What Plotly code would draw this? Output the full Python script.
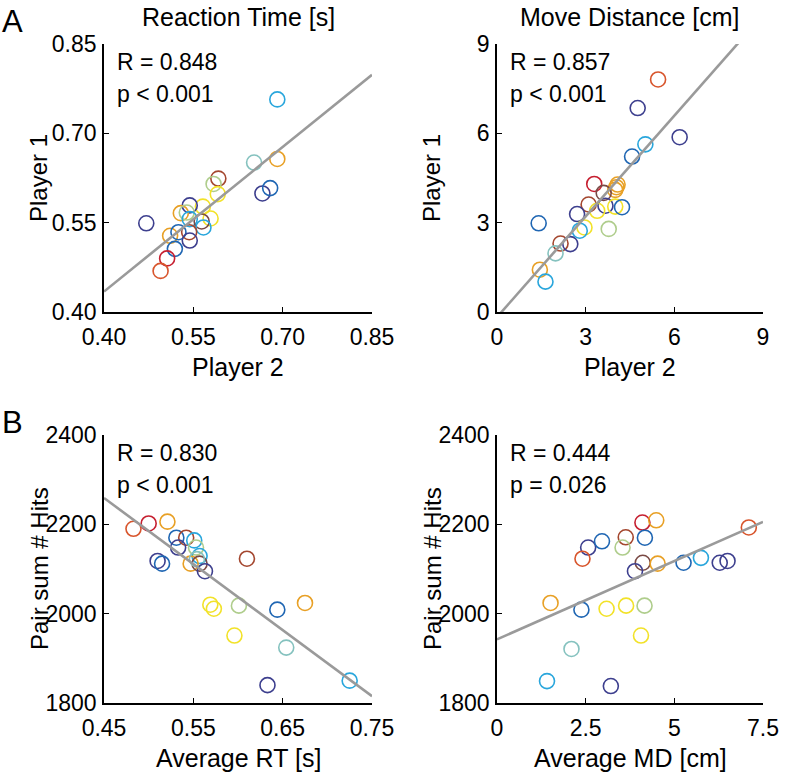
import numpy as np
import plotly.graph_objects as go

# one colour per player pair (jet-like map in the original)
palette = {
    "navy": "#3d3f8e",
    "blue": "#1f66b3",
    "cyan": "#29a6dc",
    "teal": "#85c2bf",
    "lgreen": "#afcd8c",
    "yellow": "#f2e229",
    "orange": "#e8a025",
    "redor": "#d8552c",
    "red": "#c61f30",
    "brown": "#a4472f",
    "dbrown": "#7a4a45",
}

# A, left: reaction time [s], player 2 (x) vs player 1 (y)
rt_p2 = [0.691, 0.652, 0.691, 0.666, 0.679, 0.592, 0.584, 0.591, 0.566, 0.579,
         0.471, 0.544, 0.529, 0.539, 0.544, 0.564, 0.567, 0.511, 0.525, 0.543,
         0.544, 0.519, 0.506, 0.495]
rt_p1 = [0.757, 0.651, 0.657, 0.599, 0.608, 0.624, 0.615, 0.598, 0.577, 0.557,
         0.549, 0.579, 0.566, 0.567, 0.556, 0.552, 0.542, 0.528, 0.534, 0.534,
         0.520, 0.506, 0.490, 0.469]
rt_col = ["cyan", "teal", "orange", "navy", "blue", "brown", "lgreen", "yellow", "yellow", "yellow",
          "navy", "navy", "orange", "lgreen", "cyan", "dbrown", "cyan", "orange", "blue", "brown",
          "navy", "blue", "red", "redor"]

# A, right: move distance [cm], player 2 (x) vs player 1 (y)
md_p2 = [5.45, 4.76, 6.18, 5.02, 4.57, 3.29, 4.08, 4.04, 4.00, 3.61,
         3.10, 3.67, 3.39, 4.00, 4.23, 2.71, 1.41, 3.78, 2.96, 2.80,
         2.15, 2.48, 1.98, 1.45, 1.64]
md_p1 = [7.81, 6.85, 5.87, 5.63, 5.22, 4.30, 4.28, 4.19, 4.10, 4.00,
         3.61, 3.57, 3.40, 3.54, 3.52, 3.29, 2.98, 2.79, 2.84, 2.73,
         2.30, 2.28, 1.97, 1.42, 1.02]
md_col = ["redor", "navy", "navy", "cyan", "blue", "red", "orange", "orange", "orange", "dbrown",
          "brown", "navy", "yellow", "yellow", "blue", "navy", "blue", "lgreen", "yellow", "cyan",
          "brown", "navy", "teal", "orange", "cyan"]

# B, left: average RT [s] vs pair sum of hits
rt_avg = [0.483, 0.500, 0.521, 0.531, 0.542, 0.551, 0.553, 0.533, 0.557, 0.510,
          0.515, 0.547, 0.557, 0.554, 0.563, 0.610, 0.569, 0.573, 0.601, 0.644,
          0.675, 0.596, 0.654, 0.725, 0.633]
hits_rt = [2190, 2202, 2206, 2170, 2170, 2164, 2148, 2148, 2129, 2118,
           2112, 2112, 2112, 2122, 2095, 2123, 2020, 2011, 2018, 2009,
           2024, 1951, 1924, 1850, 1840]
rtavg_col = ["redor", "red", "orange", "blue", "brown", "cyan", "lgreen", "navy", "cyan", "navy",
             "blue", "orange", "dbrown", "teal", "navy", "brown", "yellow", "yellow", "lgreen", "blue",
             "orange", "yellow", "teal", "cyan", "navy"]

# B, right: average MD [cm] vs pair sum of hits
md_avg = [4.10, 4.49, 2.57, 2.96, 3.63, 4.17, 3.54, 2.41, 4.11, 4.53,
          3.89, 5.26, 5.75, 6.28, 6.50, 7.10, 1.51, 2.38, 3.09, 3.64,
          4.16, 4.06, 2.10, 1.41, 3.21]
hits_md = [2204, 2209, 2148, 2162, 2171, 2170, 2148, 2123, 2114, 2112,
           2095, 2114, 2125, 2114, 2118, 2193, 2024, 2009, 2011, 2018,
           2018, 1951, 1921, 1849, 1838]
mdavg_col = ["red", "orange", "navy", "blue", "brown", "blue", "lgreen", "redor", "dbrown", "orange",
             "navy", "blue", "cyan", "navy", "navy", "redor", "orange", "blue", "yellow", "yellow",
             "lgreen", "yellow", "teal", "cyan", "navy"]

stats = [("R = 0.848", "p < 0.001"), ("R = 0.857", "p < 0.001"),
         ("R = 0.830", "p < 0.001"), ("R = 0.444", "p = 0.026")]

col_titles = ["Reaction Time [s]", "Move Distance [cm]"]

FONT = "Liberation Sans, Arial, Helvetica, sans-serif"
W, H = 796, 773

panels = [
    dict(x=rt_p2, y=rt_p1, c=rt_col, xr=[0.40, 0.85], yr=[0.40, 0.85],
         xt=[0.40, 0.55, 0.70, 0.85], yt=[0.40, 0.55, 0.70, 0.85],
         xl=["0.40", "0.55", "0.70", "0.85"], yl=["0.40", "0.55", "0.70", "0.85"],
         xtitle="Player 2", ytitle="Player 1", px=(104, 372), py=(44, 312)),
    dict(x=md_p2, y=md_p1, c=md_col, xr=[0, 9], yr=[0, 9],
         xt=[0, 3, 6, 9], yt=[0, 3, 6, 9],
         xl=["0", "3", "6", "9"], yl=["0", "3", "6", "9"],
         xtitle="Player 2", ytitle="Player 1", px=(497, 763), py=(44, 312)),
    dict(x=rt_avg, y=hits_rt, c=rtavg_col, xr=[0.45, 0.75], yr=[1800, 2400],
         xt=[0.45, 0.55, 0.65, 0.75], yt=[1800, 2000, 2200, 2400],
         xl=["0.45", "0.55", "0.65", "0.75"], yl=["1800", "2000", "2200", "2400"],
         xtitle="Average RT [s]", ytitle="Pair sum # Hits", px=(104, 372), py=(435, 703)),
    dict(x=md_avg, y=hits_md, c=mdavg_col, xr=[0, 7.5], yr=[1800, 2400],
         xt=[0, 2.5, 5, 7.5], yt=[1800, 2000, 2200, 2400],
         xl=["0", "2.5", "5", "7.5"], yl=["1800", "2000", "2200", "2400"],
         xtitle="Average MD [cm]", ytitle="Pair sum # Hits", px=(497, 763), py=(435, 703)),
]


def txt(text, x, y, size, **kw):
    # text placed in figure pixels (margins are zero, so paper == page)
    return dict(text=text, xref="paper", yref="paper", x=x / W, y=1 - y / H,
                xanchor=kw.pop("xanchor", "center"), yanchor="middle",
                showarrow=False, font=dict(family=FONT, size=size, color="black"), **kw)


fig = go.Figure()
annotations = []

for i, p in enumerate(panels):
    n = "" if i == 0 else str(i + 1)
    xa, ya = "x" + n, "y" + n

    fig.add_trace(go.Scatter(
        x=p["x"], y=p["y"], xaxis=xa, yaxis=ya, mode="markers",
        marker=dict(symbol="circle-open", size=15,
                    color=[palette[c] for c in p["c"]], line=dict(width=1.6)),
        cliponaxis=False, showlegend=False,
    ))

    slope, icpt = np.polyfit(p["x"], p["y"], 1)
    lx = np.array(p["xr"])
    fig.add_trace(go.Scatter(
        x=lx, y=icpt + slope * lx, xaxis=xa, yaxis=ya, mode="lines",
        line=dict(color="#9a9a9a", width=2.6), showlegend=False,
    ))

    common = dict(showline=True, linecolor="black", linewidth=1.6, mirror=False,
                  ticks="inside", ticklen=5, tickwidth=1.4, tickcolor="black",
                  showgrid=False, zeroline=False, automargin=False,
                  tickfont=dict(family=FONT, size=23, color="black"))
    fig.layout["xaxis" + n] = dict(
        common, domain=[p["px"][0] / W, p["px"][1] / W], range=p["xr"],
        tickvals=p["xt"], ticktext=p["xl"], anchor=ya, ticklabelstandoff=4)
    fig.layout["yaxis" + n] = dict(
        common, domain=[1 - p["py"][1] / H, 1 - p["py"][0] / H], range=p["yr"],
        tickvals=p["yt"], ticktext=p["yl"], anchor=xa, ticklabelstandoff=1)

    # axis titles
    annotations.append(txt(p["xtitle"], (p["px"][0] + p["px"][1]) / 2, p["py"][1] + 55, 25))
    annotations.append(txt(p["ytitle"], p["px"][0] - 65, (p["py"][0] + p["py"][1]) / 2, 24,
                           textangle=-90))

    # correlation text
    for k, s in enumerate(stats[i]):
        annotations.append(txt(s, p["px"][0] + 11, p["py"][0] + 18 + 32 * k, 23, xanchor="left"))

for j, t in enumerate(col_titles):
    p = panels[j]
    annotations.append(txt(t, (p["px"][0] + p["px"][1]) / 2, 17, 25))

for letter, yy in [("A", 21), ("B", 423)]:
    annotations.append(txt(letter, 0, yy, 31, xanchor="left"))

fig.update_layout(
    width=W, height=H,
    margin=dict(l=0, r=0, t=0, b=0),
    paper_bgcolor="white", plot_bgcolor="white",
    annotations=annotations,
)

fig.write_html("out.html", config={"displayModeBar": False},
               post_script="document.body.style.margin = '0px';")
